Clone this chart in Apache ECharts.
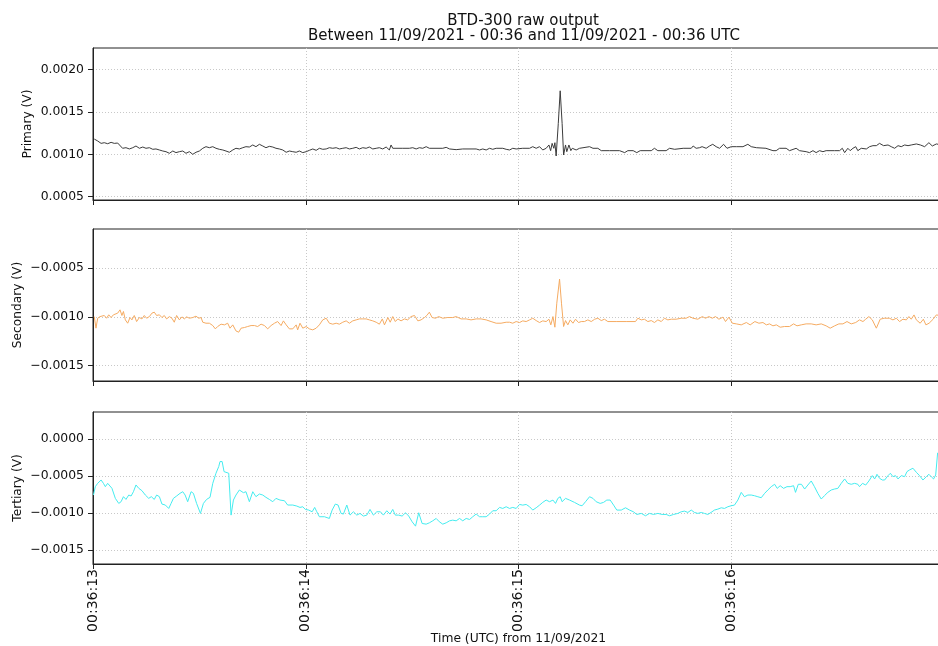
<!DOCTYPE html>
<html>
<head>
<meta charset="utf-8">
<script src="https://cdn.jsdelivr.net/npm/echarts@6/dist/echarts.min.js"></script>
<style>
html,body{margin:0;padding:0;background:#fff;}
#chart{width:938px;height:646px;}
</style>
</head>
<body>
<div id="chart"></div>
<script>
// ---- Data (time in seconds after 00:36:13, values in volts) ----
const xTickLabels = ['00:36:13', '00:36:14', '00:36:15', '00:36:16', '00:36:17'];
const primaryTicks = [0.0005, 0.0010, 0.0015, 0.0020];
const secondaryTicks = [-0.0015, -0.0010, -0.0005];
const tertiaryTicks = [-0.0015, -0.0010, -0.0005, 0.0];

const primaryTime = [
0.006,0.022,0.038,0.053,0.069,0.085,0.100,0.116,0.124,0.139,
0.155,0.171,0.187,0.202,0.218,0.234,0.249,0.265,0.281,0.296,
0.312,0.328,0.343,0.359,0.375,0.390,0.406,0.422,0.437,0.453,
0.469,0.484,0.500,0.516,0.531,0.547,0.563,0.578,0.594,0.610,
0.625,0.641,0.657,0.672,0.688,0.704,0.719,0.735,0.751,0.766,
0.782,0.798,0.813,0.829,0.845,0.860,0.876,0.892,0.908,0.923,
0.939,0.955,0.970,0.986,1.002,1.017,1.033,1.049,1.064,1.080,
1.096,1.111,1.127,1.143,1.158,1.174,1.190,1.205,1.221,1.237,
1.252,1.268,1.284,1.299,1.315,1.331,1.346,1.362,1.378,1.393,
1.401,1.409,1.417,1.456,1.487,1.503,1.519,1.534,1.550,1.566,
1.581,1.644,1.660,1.676,1.707,1.738,1.801,1.817,1.832,1.848,
1.864,1.879,1.895,1.926,1.942,1.958,1.973,1.989,
2.020,2.052,2.067,2.083,2.099,2.114,2.130,2.143,2.151,2.158,
2.166,2.171,2.177,2.187,2.196,2.205,2.212,2.221,2.227,2.237,
2.246,2.253,2.271,2.287,2.334,2.350,2.373,2.389,2.428,2.475,
2.499,2.514,2.539,2.556,2.572,2.624,2.639,2.655,2.694,2.710,
2.734,2.774,2.812,2.821,2.835,2.851,2.863,2.882,2.898,2.913,
2.929,2.945,2.964,2.980,3.000,3.024,3.055,3.078,3.094,3.118,
3.163,3.196,3.211,3.227,3.258,3.274,3.305,3.321,3.352,3.368,
3.384,3.399,3.415,3.431,3.446,3.486,3.509,3.522,3.533,3.548,
3.559,3.572,3.585,3.595,3.611,3.635,3.650,3.666,3.682,3.697,
3.705,3.716,3.737,3.752,3.768,3.784,3.799,3.815,3.831,3.846,
3.870,3.889,3.909,3.929,3.945,3.964,3.990];
const primaryVolts = [
1.180e-3,1.157e-3,1.129e-3,1.137e-3,1.125e-3,1.141e-3,1.129e-3,1.133e-3,1.110e-3,1.071e-3,
1.078e-3,1.063e-3,1.078e-3,1.098e-3,1.071e-3,1.086e-3,1.071e-3,1.078e-3,1.059e-3,1.063e-3,
1.051e-3,1.039e-3,1.031e-3,1.012e-3,1.039e-3,1.020e-3,1.031e-3,1.039e-3,1.012e-3,1.031e-3,
1.000e-3,1.024e-3,1.039e-3,1.071e-3,1.090e-3,1.078e-3,1.090e-3,1.071e-3,1.059e-3,1.051e-3,
1.039e-3,1.024e-3,1.051e-3,1.071e-3,1.063e-3,1.078e-3,1.090e-3,1.086e-3,1.110e-3,1.090e-3,
1.118e-3,1.098e-3,1.078e-3,1.094e-3,1.086e-3,1.071e-3,1.063e-3,1.051e-3,1.024e-3,1.039e-3,
1.031e-3,1.024e-3,1.039e-3,1.020e-3,1.031e-3,1.047e-3,1.063e-3,1.047e-3,1.071e-3,1.059e-3,
1.063e-3,1.078e-3,1.071e-3,1.078e-3,1.063e-3,1.071e-3,1.078e-3,1.063e-3,1.071e-3,1.082e-3,
1.063e-3,1.078e-3,1.071e-3,1.086e-3,1.063e-3,1.071e-3,1.078e-3,1.063e-3,1.086e-3,1.051e-3,
1.110e-3,1.071e-3,1.059e-3,1.071e-3,1.071e-3,1.078e-3,1.063e-3,1.078e-3,1.071e-3,1.090e-3,
1.071e-3,1.071e-3,1.082e-3,1.063e-3,1.055e-3,1.063e-3,1.063e-3,1.051e-3,1.063e-3,1.051e-3,
1.071e-3,1.059e-3,1.071e-3,1.071e-3,1.059e-3,1.051e-3,1.071e-3,1.063e-3,
1.071e-3,1.071e-3,1.090e-3,1.071e-3,1.090e-3,1.051e-3,1.071e-3,1.110e-3,1.043e-3,1.129e-3,
1.071e-3,1.137e-3,0.980e-3,1.365e-3,1.749e-3,1.365e-3,0.992e-3,1.110e-3,1.031e-3,1.110e-3,
1.043e-3,1.071e-3,1.051e-3,1.071e-3,1.090e-3,1.071e-3,1.071e-3,1.043e-3,1.043e-3,1.043e-3,
1.020e-3,1.043e-3,1.043e-3,1.020e-3,1.043e-3,1.043e-3,1.071e-3,1.043e-3,1.043e-3,1.071e-3,
1.059e-3,1.071e-3,1.071e-3,1.098e-3,1.071e-3,1.078e-3,1.090e-3,1.071e-3,1.098e-3,1.118e-3,
1.090e-3,1.071e-3,1.118e-3,1.071e-3,1.090e-3,1.090e-3,1.090e-3,1.118e-3,1.090e-3,1.078e-3,
1.071e-3,1.043e-3,1.043e-3,1.071e-3,1.071e-3,1.043e-3,1.071e-3,1.043e-3,1.031e-3,1.020e-3,
1.043e-3,1.020e-3,1.043e-3,1.031e-3,1.043e-3,1.043e-3,1.043e-3,1.071e-3,1.020e-3,1.071e-3,
1.043e-3,1.071e-3,1.090e-3,1.043e-3,1.071e-3,1.063e-3,1.090e-3,1.102e-3,1.102e-3,1.129e-3,
1.141e-3,1.102e-3,1.110e-3,1.090e-3,1.071e-3,1.102e-3,1.090e-3,1.110e-3,1.102e-3,1.110e-3,
1.122e-3,1.110e-3,1.090e-3,1.137e-3,1.098e-3,1.122e-3,1.110e-3];

const secondaryTime = [
0.006,0.014,0.022,0.033,0.042,0.053,0.064,0.074,0.085,0.096,
0.105,0.116,0.127,0.136,0.143,0.152,0.163,0.174,0.183,0.194,
0.205,0.218,0.230,0.241,0.252,0.265,0.277,0.288,0.299,0.312,
0.324,0.335,0.346,0.359,0.371,0.382,0.393,0.406,0.418,0.429,
0.440,0.453,0.469,0.484,0.497,0.508,0.516,0.531,0.547,0.563,
0.575,0.586,0.602,0.618,0.633,0.644,0.657,0.672,0.685,0.696,
0.712,0.727,0.743,0.759,0.774,0.790,0.806,0.821,0.837,0.853,
0.868,0.884,0.895,0.908,0.923,0.939,0.955,0.962,0.973,0.986,
1.002,1.017,1.033,1.049,1.064,1.080,1.096,1.111,1.127,1.143,
1.158,1.174,1.190,1.205,1.221,1.237,1.252,1.268,1.284,1.299,
1.315,1.331,1.346,1.360,1.370,1.386,1.397,1.409,1.421,1.433,
1.448,1.464,1.479,1.495,1.511,1.527,1.542,1.558,1.569,1.581,
1.594,1.610,1.625,1.644,1.666,1.691,1.707,1.730,1.754,1.777,
1.801,1.824,1.848,1.871,1.895,1.918,1.942,1.958,1.973,1.989,
2.005,2.020,2.036,2.052,2.067,2.083,2.099,2.114,2.130,2.143,
2.152,2.162,2.171,2.180,2.193,2.202,2.212,2.221,2.232,2.243,
2.256,2.268,2.282,2.295,2.310,2.326,2.342,2.358,2.373,2.389,
2.404,2.420,2.459,2.506,2.550,2.561,2.577,2.592,2.608,2.624,
2.639,2.655,2.671,2.686,2.702,2.718,2.741,2.765,2.788,2.804,
2.820,2.843,2.864,2.879,2.895,2.911,2.926,2.942,2.961,2.973,
2.989,3.005,3.024,3.047,3.071,3.089,3.111,3.130,3.149,3.165,
3.180,3.196,3.212,3.230,3.250,3.274,3.293,3.309,3.329,3.352,
3.376,3.399,3.423,3.446,3.465,3.486,3.506,3.525,3.544,3.564,
3.585,3.603,3.619,3.632,3.647,3.663,3.682,3.700,3.719,3.743,
3.760,3.776,3.791,3.807,3.823,3.835,3.846,3.859,3.870,3.888,
3.903,3.915,3.930,3.949,3.964,3.990];
const secondaryVolts = [
-0.997e-3,-1.116e-3,-1.014e-3,-0.997e-3,-1.007e-3,-0.986e-3,-1.014e-3,-0.979e-3,-1.007e-3,-0.979e-3,
-0.997e-3,-0.962e-3,-0.928e-3,-0.986e-3,-0.945e-3,-1.031e-3,-1.065e-3,-1.007e-3,-1.031e-3,-0.986e-3,
-1.048e-3,-1.007e-3,-1.021e-3,-0.986e-3,-1.014e-3,-0.997e-3,-0.962e-3,-0.952e-3,-0.986e-3,-0.979e-3,
-1.007e-3,-0.986e-3,-1.021e-3,-0.997e-3,-1.014e-3,-1.055e-3,-0.986e-3,-1.031e-3,-1.000e-3,-1.021e-3,
-1.000e-3,-1.014e-3,-1.007e-3,-0.993e-3,-1.014e-3,-1.007e-3,-1.055e-3,-1.065e-3,-1.065e-3,-1.089e-3,
-1.123e-3,-1.099e-3,-1.075e-3,-1.082e-3,-1.065e-3,-1.116e-3,-1.082e-3,-1.144e-3,-1.157e-3,-1.116e-3,
-1.109e-3,-1.099e-3,-1.089e-3,-1.089e-3,-1.099e-3,-1.075e-3,-1.089e-3,-1.123e-3,-1.089e-3,-1.065e-3,
-1.048e-3,-1.089e-3,-1.041e-3,-1.082e-3,-1.123e-3,-1.123e-3,-1.082e-3,-1.133e-3,-1.065e-3,-1.116e-3,
-1.099e-3,-1.123e-3,-1.133e-3,-1.116e-3,-1.082e-3,-1.031e-3,-1.014e-3,-1.065e-3,-1.075e-3,-1.065e-3,
-1.075e-3,-1.055e-3,-1.041e-3,-1.065e-3,-1.041e-3,-1.031e-3,-1.021e-3,-1.021e-3,-1.021e-3,-1.031e-3,
-1.041e-3,-1.055e-3,-1.075e-3,-1.021e-3,-1.082e-3,-1.007e-3,-1.055e-3,-0.997e-3,-1.048e-3,-1.021e-3,
-1.041e-3,-1.021e-3,-1.031e-3,-0.997e-3,-0.986e-3,-1.041e-3,-1.031e-3,-1.007e-3,-0.986e-3,-0.952e-3,
-1.007e-3,-1.014e-3,-0.997e-3,-1.014e-3,-1.007e-3,-1.007e-3,-0.997e-3,-1.021e-3,-1.021e-3,-1.031e-3,
-1.021e-3,-1.021e-3,-1.031e-3,-1.048e-3,-1.065e-3,-1.065e-3,-1.055e-3,-1.055e-3,-1.065e-3,-1.048e-3,
-1.058e-3,-1.041e-3,-1.048e-3,-1.031e-3,-1.014e-3,-1.038e-3,-1.058e-3,-1.041e-3,-1.048e-3,-1.024e-3,
-1.082e-3,-0.997e-3,-1.106e-3,-0.860e-3,-0.613e-3,-0.860e-3,-1.099e-3,-1.038e-3,-1.082e-3,-1.031e-3,
-1.065e-3,-1.024e-3,-1.058e-3,-1.048e-3,-1.048e-3,-1.031e-3,-1.048e-3,-1.024e-3,-1.014e-3,-1.038e-3,
-1.024e-3,-1.048e-3,-1.048e-3,-1.048e-3,-1.048e-3,-1.014e-3,-1.031e-3,-1.024e-3,-1.048e-3,-1.038e-3,
-1.058e-3,-1.031e-3,-1.048e-3,-1.014e-3,-1.031e-3,-1.024e-3,-1.024e-3,-1.014e-3,-1.014e-3,-0.997e-3,
-1.014e-3,-1.024e-3,-0.997e-3,-1.014e-3,-0.997e-3,-1.014e-3,-0.997e-3,-1.024e-3,-1.003e-3,-1.048e-3,
-1.003e-3,-1.065e-3,-1.072e-3,-1.082e-3,-1.058e-3,-1.082e-3,-1.048e-3,-1.065e-3,-1.058e-3,-1.082e-3,
-1.072e-3,-1.092e-3,-1.082e-3,-1.106e-3,-1.099e-3,-1.099e-3,-1.072e-3,-1.092e-3,-1.082e-3,-1.072e-3,
-1.072e-3,-1.082e-3,-1.072e-3,-1.092e-3,-1.116e-3,-1.092e-3,-1.072e-3,-1.072e-3,-1.048e-3,-1.072e-3,
-1.058e-3,-1.031e-3,-1.048e-3,-1.024e-3,-0.997e-3,-1.031e-3,-1.116e-3,-1.024e-3,-1.014e-3,-1.014e-3,
-1.031e-3,-1.014e-3,-1.048e-3,-1.024e-3,-1.031e-3,-0.997e-3,-1.024e-3,-0.980e-3,-1.031e-3,-1.065e-3,
-1.024e-3,-1.082e-3,-1.065e-3,-1.024e-3,-0.980e-3,-0.990e-3];

const tertiaryTime = [
0.002,0.011,0.022,0.038,0.049,0.058,0.069,0.077,0.089,0.105,
0.121,0.132,0.143,0.155,0.168,0.179,0.190,0.202,0.215,0.230,
0.246,0.262,0.274,0.288,0.299,0.312,0.324,0.340,0.356,0.367,
0.378,0.393,0.409,0.422,0.433,0.445,0.461,0.472,0.487,0.505,
0.519,0.534,0.550,0.563,0.578,0.591,0.597,0.607,0.616,0.625,
0.638,0.649,0.660,0.672,0.688,0.707,0.719,0.735,0.751,0.766,
0.782,0.798,0.813,0.829,0.845,0.860,0.879,0.900,0.915,0.939,
0.958,0.973,0.986,0.998,1.014,1.030,1.042,1.052,1.064,1.088,
1.111,1.124,1.139,1.152,1.166,1.177,1.193,1.208,1.224,1.240,
1.255,1.271,1.287,1.302,1.318,1.334,1.351,1.365,1.381,1.396,
1.409,1.421,1.437,1.453,1.469,1.484,1.500,1.516,1.531,1.547,
1.566,1.581,1.597,1.613,1.628,1.644,1.660,1.676,1.691,1.707,
1.723,1.738,1.754,1.770,1.785,1.801,1.817,1.832,1.848,1.864,
1.879,1.895,1.911,1.926,1.942,1.958,1.973,1.989,
2.005,2.020,2.036,2.052,2.067,2.083,2.099,2.114,2.130,2.146,
2.162,2.174,2.185,2.196,2.205,2.221,2.240,2.263,2.287,2.299,
2.315,2.334,2.350,2.365,2.384,2.400,2.415,2.431,2.447,2.462,
2.483,2.503,2.522,2.540,2.556,2.577,2.597,2.616,2.635,2.655,
2.675,2.694,2.710,2.729,2.749,2.765,2.780,2.796,2.812,2.827,
2.843,2.859,2.874,2.890,2.905,2.921,2.937,2.953,2.968,2.984,
2.999,3.015,3.031,3.047,3.062,3.078,3.094,3.109,3.125,3.141,
3.157,3.172,3.188,3.204,3.216,3.230,3.246,3.262,3.277,3.293,
3.302,3.315,3.330,3.345,3.360,3.376,3.391,3.407,3.423,3.438,
3.454,3.470,3.485,3.501,3.517,3.533,3.548,3.564,3.580,3.595,
3.603,3.617,3.632,3.647,3.663,3.674,3.685,3.697,3.710,3.721,
3.737,3.748,3.760,3.772,3.784,3.799,3.815,3.826,3.838,3.854,
3.870,3.885,3.901,3.917,3.929,3.940,3.951,3.961,3.970,3.990];
const tertiaryVolts = [
-0.759e-3,-0.646e-3,-0.601e-3,-0.556e-3,-0.601e-3,-0.646e-3,-0.601e-3,-0.587e-3,-0.668e-3,-0.804e-3,
-0.872e-3,-0.849e-3,-0.781e-3,-0.818e-3,-0.759e-3,-0.772e-3,-0.714e-3,-0.623e-3,-0.668e-3,-0.700e-3,
-0.759e-3,-0.804e-3,-0.781e-3,-0.818e-3,-0.759e-3,-0.781e-3,-0.881e-3,-0.894e-3,-0.940e-3,-0.872e-3,
-0.804e-3,-0.772e-3,-0.736e-3,-0.714e-3,-0.759e-3,-0.849e-3,-0.714e-3,-0.736e-3,-0.872e-3,-1.007e-3,
-0.872e-3,-0.818e-3,-0.790e-3,-0.601e-3,-0.465e-3,-0.375e-3,-0.307e-3,-0.307e-3,-0.443e-3,-0.420e-3,
-0.465e-3,-1.030e-3,-0.827e-3,-0.759e-3,-0.691e-3,-0.727e-3,-0.714e-3,-0.849e-3,-0.714e-3,-0.781e-3,
-0.745e-3,-0.759e-3,-0.790e-3,-0.818e-3,-0.849e-3,-0.804e-3,-0.827e-3,-0.836e-3,-0.894e-3,-0.894e-3,
-0.908e-3,-0.926e-3,-0.917e-3,-0.953e-3,-0.962e-3,-0.985e-3,-0.926e-3,-0.985e-3,-1.052e-3,-1.052e-3,
-1.075e-3,-0.962e-3,-0.881e-3,-0.894e-3,-1.007e-3,-1.016e-3,-0.894e-3,-1.030e-3,-0.985e-3,-1.030e-3,
-1.007e-3,-1.043e-3,-1.030e-3,-0.953e-3,-1.030e-3,-0.985e-3,-0.985e-3,-1.030e-3,-0.971e-3,-1.016e-3,
-0.953e-3,-1.030e-3,-1.030e-3,-1.043e-3,-0.998e-3,-1.043e-3,-1.120e-3,-1.179e-3,-0.998e-3,-1.143e-3,
-1.152e-3,-1.134e-3,-1.107e-3,-1.075e-3,-1.120e-3,-1.152e-3,-1.134e-3,-1.107e-3,-1.098e-3,-1.107e-3,
-1.075e-3,-1.107e-3,-1.075e-3,-1.089e-3,-1.052e-3,-1.016e-3,-1.052e-3,-1.052e-3,-1.052e-3,-1.016e-3,
-0.971e-3,-0.971e-3,-0.926e-3,-0.940e-3,-0.917e-3,-0.940e-3,-0.926e-3,-0.940e-3,
-0.886e-3,-0.895e-3,-0.886e-3,-0.917e-3,-0.962e-3,-0.931e-3,-0.895e-3,-0.858e-3,-0.827e-3,-0.849e-3,
-0.827e-3,-0.872e-3,-0.804e-3,-0.782e-3,-0.849e-3,-0.804e-3,-0.827e-3,-0.858e-3,-0.895e-3,-0.904e-3,
-0.849e-3,-0.782e-3,-0.804e-3,-0.849e-3,-0.872e-3,-0.858e-3,-0.827e-3,-0.827e-3,-0.895e-3,-0.962e-3,
-0.962e-3,-0.931e-3,-0.962e-3,-0.985e-3,-1.021e-3,-1.007e-3,-1.039e-3,-1.007e-3,-1.021e-3,-1.007e-3,
-1.021e-3,-1.021e-3,-1.039e-3,-1.021e-3,-1.007e-3,-0.985e-3,-0.976e-3,-0.994e-3,-0.962e-3,-0.994e-3,
-1.007e-3,-0.994e-3,-1.007e-3,-1.021e-3,-0.994e-3,-0.962e-3,-0.949e-3,-0.931e-3,-0.940e-3,-0.917e-3,
-0.904e-3,-0.895e-3,-0.827e-3,-0.723e-3,-0.782e-3,-0.759e-3,-0.759e-3,-0.768e-3,-0.782e-3,-0.795e-3,
-0.736e-3,-0.691e-3,-0.646e-3,-0.614e-3,-0.669e-3,-0.633e-3,-0.669e-3,-0.646e-3,-0.646e-3,-0.633e-3,
-0.723e-3,-0.614e-3,-0.614e-3,-0.678e-3,-0.624e-3,-0.569e-3,-0.646e-3,-0.736e-3,-0.813e-3,-0.768e-3,
-0.723e-3,-0.691e-3,-0.678e-3,-0.669e-3,-0.601e-3,-0.542e-3,-0.601e-3,-0.614e-3,-0.601e-3,-0.614e-3,
-0.646e-3,-0.601e-3,-0.624e-3,-0.569e-3,-0.497e-3,-0.542e-3,-0.479e-3,-0.533e-3,-0.556e-3,-0.556e-3,
-0.497e-3,-0.465e-3,-0.511e-3,-0.497e-3,-0.542e-3,-0.497e-3,-0.511e-3,-0.443e-3,-0.420e-3,-0.397e-3,
-0.452e-3,-0.497e-3,-0.556e-3,-0.511e-3,-0.479e-3,-0.511e-3,-0.542e-3,-0.488e-3,-0.190e-3,-0.260e-3];

// ---- Chart ----
const FONT = 'DejaVu Sans';
const chart = echarts.init(document.getElementById('chart'), null, {renderer: 'canvas'});

function pairs(ts, vs) { return ts.map((t, i) => [t, vs[i]]); }
function fmtV(v) {
  const s = Math.abs(v).toFixed(4);
  return (v < -1e-12 ? '\u2212' : '') + s;
}

const panels = [
  {name: 'Primary (V)', min: 0.000461, max: 0.002254, ticks: primaryTicks, top: 48, gap: 59, color: '#3c3c3c', data: pairs(primaryTime, primaryVolts)},
  {name: 'Secondary (V)', min: -0.001657, max: -0.0001, ticks: secondaryTicks, top: 229, gap: 69, color: '#f5ab62', data: pairs(secondaryTime, secondaryVolts)},
  {name: 'Tertiary (V)', min: -0.00169, max: 0.000362, ticks: tertiaryTicks, top: 412, gap: 69, color: '#45ecef', data: pairs(tertiaryTime, tertiaryVolts)}
];

const grid = panels.map(p => ({
  left: 93, width: 851, top: p.top, height: 152,
  outerBoundsMode: 'none', containLabel: false,
  show: true, borderColor: '#222', borderWidth: 1, backgroundColor: 'transparent'
}));

const splitStyle = {show: true, lineStyle: {color: '#c8c8c8', type: [1, 2], width: 1}};
const solidAxis = {show: true, onZero: false, lineStyle: {color: '#222', width: 1}};

const xAxis = panels.map((p, i) => ({
  type: 'value', gridIndex: i, min: 0, max: 4, interval: 1,
  axisLine: solidAxis,
  axisTick: {show: true, inside: false, length: 5, lineStyle: {color: '#222', width: 1}},
  axisLabel: {
    show: i === 2, rotate: 90, margin: 5, fontFamily: FONT, fontSize: 14, color: '#111',
    formatter: v => xTickLabels[Math.round(v)]
  },
  splitLine: splitStyle,
  name: i === 2 ? 'Time (UTC) from 11/09/2021' : '',
  nameLocation: 'middle', nameGap: 69, nameMoveOverlap: false,
  nameTextStyle: {fontFamily: FONT, fontSize: 12.3, color: '#111'}
}));

const yAxis = panels.map((p, i) => ({
  type: 'value', gridIndex: i, min: p.min, max: p.max,
  minInterval: 0.0005, maxInterval: 0.0005,
  axisLine: solidAxis,
  axisTick: {show: true, length: 5, customValues: p.ticks, lineStyle: {color: '#222', width: 1}},
  axisLabel: {show: true, margin: 9, customValues: p.ticks, fontFamily: FONT, fontSize: 12.4, color: '#111', formatter: fmtV},
  splitLine: splitStyle,
  name: p.name, nameLocation: 'middle', nameGap: p.gap, nameMoveOverlap: false,
  nameTextStyle: {fontFamily: FONT, fontSize: 12.2, color: '#111'}
}));

const series = panels.map((p, i) => ({
  type: 'line', xAxisIndex: i, yAxisIndex: i, data: p.data,
  showSymbol: false, symbol: 'none', clip: true,
  lineStyle: {color: p.color, width: 1}, itemStyle: {color: p.color},
  animation: false, silent: true
}));

chart.setOption({
  animation: false,
  backgroundColor: '#ffffff',
  title: [
    {text: 'BTD-300 raw output', left: 518, top: 9, textAlign: 'center',
     textStyle: {fontFamily: FONT, fontSize: 15, fontWeight: 'normal', color: '#111'}},
    {text: 'Between 11/09/2021 - 00:36 and 11/09/2021 - 00:36 UTC', left: 519, top: 24, textAlign: 'center',
     textStyle: {fontFamily: FONT, fontSize: 15, fontWeight: 'normal', color: '#111'}}
  ],
  grid: grid,
  xAxis: xAxis,
  yAxis: yAxis,
  series: series
});
</script>
</body>
</html>
